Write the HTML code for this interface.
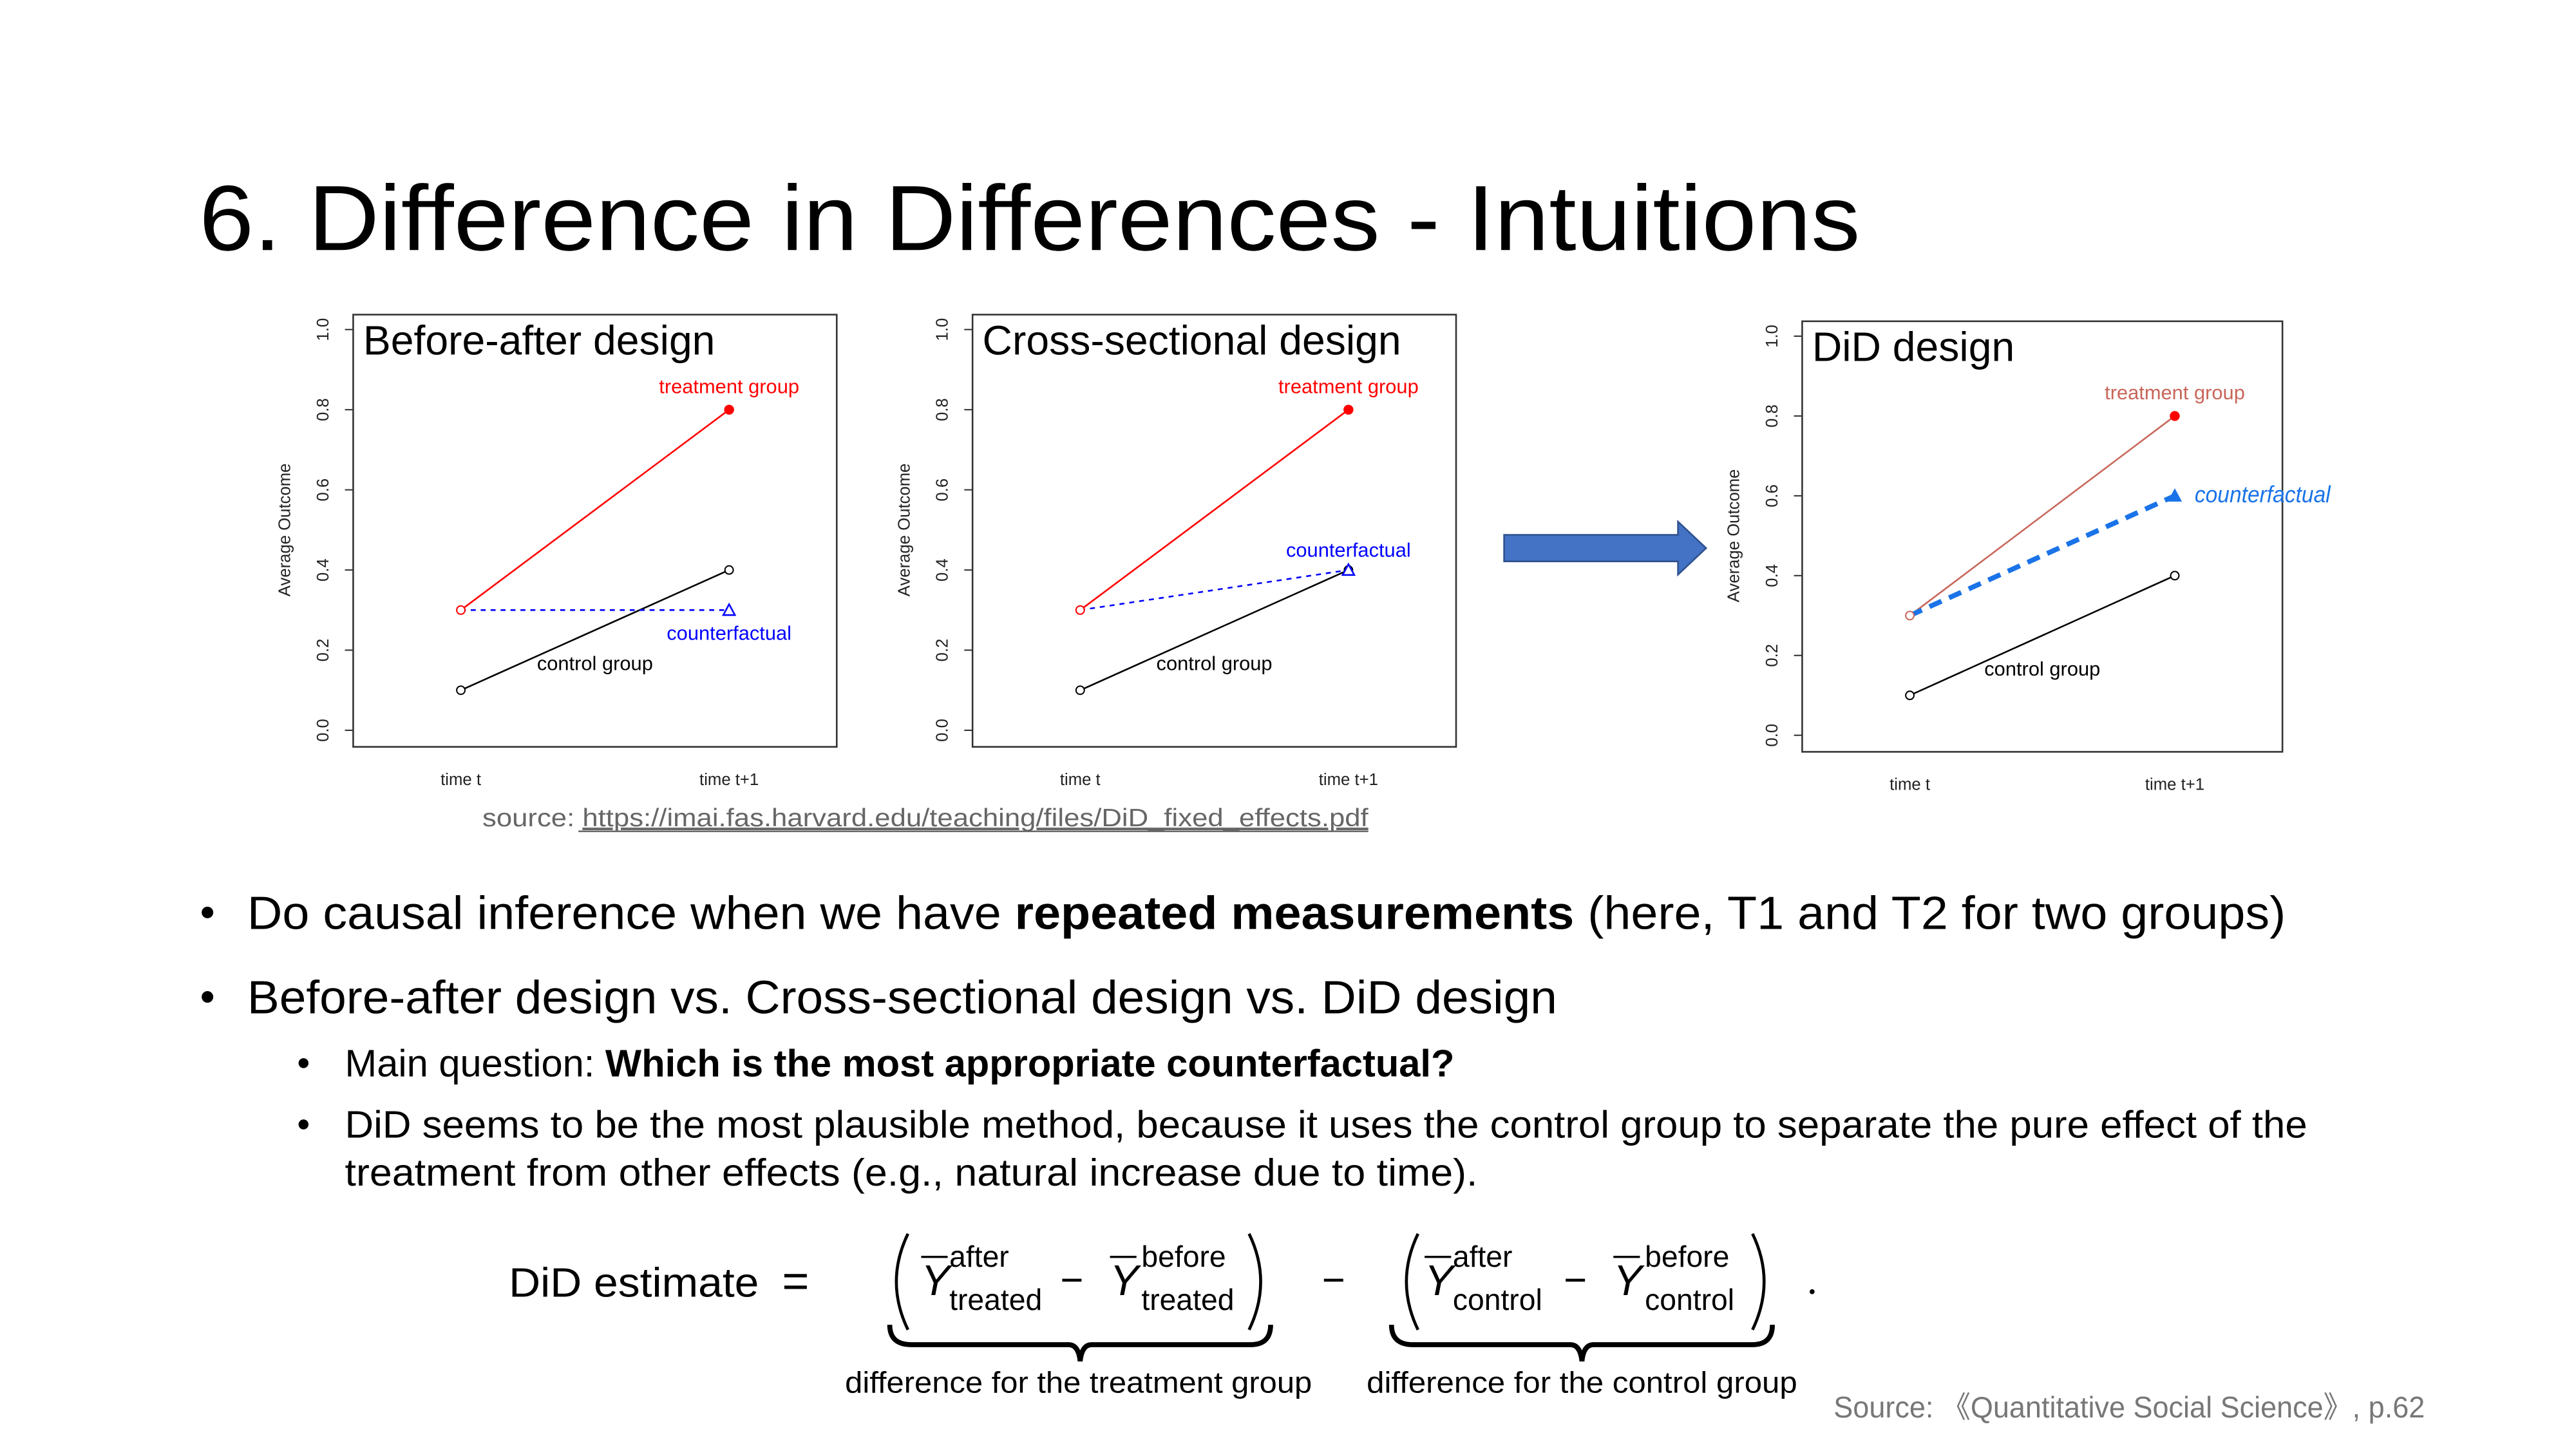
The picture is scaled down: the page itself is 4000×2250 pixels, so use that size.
<!DOCTYPE html>
<html><head><meta charset="utf-8">
<style>
html,body{margin:0;padding:0;background:#fff;}
svg{display:block;}
text{font-family:"Liberation Sans",sans-serif;}
</style></head>
<body>
<svg id="slide" width="4000" height="2250" viewBox="0 0 1555 875" xmlns="http://www.w3.org/2000/svg">
<rect width="1555" height="875" fill="#fff"/>
<text x="120" y="151" font-size="56" textLength="1003" lengthAdjust="spacingAndGlyphs" fill="#000">6. Difference in Differences - Intuitions</text>
<g id="charts"></g>
<g>
<polygon points="908,323 1013,323 1013,315 1030,331 1013,347 1013,339 908,339" fill="#4472c4" stroke="#2f528f" stroke-width="1"/>
</g>
<text x="291" y="499" font-size="15" fill="#666" textLength="535" lengthAdjust="spacingAndGlyphs">source: <tspan text-decoration="underline">https://imai.fas.harvard.edu/teaching/files/DiD_fixed_effects.pdf</tspan></text>
<line x1="349" y1="502" x2="826" y2="502" stroke="#666" stroke-width="1"/>
<g fill="#000">
<circle cx="125" cy="551" r="3.5"/>
<text x="149" y="561" font-size="28" textLength="1231" lengthAdjust="spacingAndGlyphs">Do causal inference when we have <tspan font-weight="bold">repeated measurements</tspan> (here, T1 and T2 for two groups)</text>
<circle cx="125" cy="602" r="3.5"/>
<text x="149" y="612" font-size="28" textLength="791" lengthAdjust="spacingAndGlyphs">Before-after design vs. Cross-sectional design vs. DiD design</text>
<circle cx="183" cy="642" r="3"/>
<text x="208" y="650" font-size="23" textLength="670" lengthAdjust="spacingAndGlyphs">Main question: <tspan font-weight="bold">Which is the most appropriate counterfactual?</tspan></text>
<circle cx="183" cy="679" r="3"/>
<text x="208" y="687" font-size="23" textLength="1185" lengthAdjust="spacingAndGlyphs">DiD seems to be the most plausible method, because it uses the control group to separate the pure effect of the</text>
<text x="208" y="716" font-size="23" textLength="684" lengthAdjust="spacingAndGlyphs">treatment from other effects (e.g., natural increase due to time).</text>
</g>
<g fill="#000">
<text x="307" y="783" font-size="25" textLength="151" lengthAdjust="spacingAndGlyphs">DiD estimate</text>
<text x="472" y="783" font-size="28">=</text>
<path d="M548,745 Q534,774 548,803" fill="none" stroke="#000" stroke-width="1.8"/>
<path d="M754,745 Q768,774 754,803" fill="none" stroke="#000" stroke-width="1.8"/>
<line x1="556" y1="759" x2="572" y2="759" stroke="#000" stroke-width="1.3"/>
<text x="556" y="782" font-size="26" font-family="Liberation Serif" font-style="italic">Y</text>
<text x="573" y="765" font-size="18">after</text>
<text x="573" y="791" font-size="18">treated</text>
<text x="640" y="781" font-size="24">−</text>
<line x1="670" y1="759" x2="686" y2="759" stroke="#000" stroke-width="1.3"/>
<text x="670" y="782" font-size="26" font-family="Liberation Serif" font-style="italic">Y</text>
<text x="689" y="765" font-size="18">before</text>
<text x="689" y="791" font-size="18">treated</text>
<text x="798" y="781" font-size="24">−</text>
<path d="M856,745 Q842,774 856,803" fill="none" stroke="#000" stroke-width="1.8"/>
<path d="M1058,745 Q1072,774 1058,803" fill="none" stroke="#000" stroke-width="1.8"/>
<line x1="860" y1="759" x2="876" y2="759" stroke="#000" stroke-width="1.3"/>
<text x="860" y="782" font-size="26" font-family="Liberation Serif" font-style="italic">Y</text>
<text x="877" y="765" font-size="18">after</text>
<text x="877" y="791" font-size="18">control</text>
<text x="944" y="781" font-size="24">−</text>
<line x1="974" y1="759" x2="990" y2="759" stroke="#000" stroke-width="1.3"/>
<text x="974" y="782" font-size="26" font-family="Liberation Serif" font-style="italic">Y</text>
<text x="993" y="765" font-size="18">before</text>
<text x="993" y="791" font-size="18">control</text>
<circle cx="1094" cy="780" r="1.5"/>
<path d="M537,800 Q537,812 550,812 L645,812 Q651,812 652,822 Q653,812 659,812 L755,812 Q767,812 767,800" fill="none" stroke="#000" stroke-width="3"/>
<path d="M840,800 Q840,812 853,812 L948,812 Q954,812 955,822 Q956,812 962,812 L1058,812 Q1070,812 1070,800" fill="none" stroke="#000" stroke-width="3"/>
<text x="510" y="841" font-size="18" textLength="282" lengthAdjust="spacingAndGlyphs">difference for the treatment group</text>
<text x="825" y="841" font-size="18" textLength="260" lengthAdjust="spacingAndGlyphs">difference for the control group</text>
</g>
<text x="1107" y="856" font-size="18" fill="#777" textLength="357" lengthAdjust="spacingAndGlyphs">Source: 《Quantitative Social Science》, p.62</text>
</svg>
<script>
const NS="http://www.w3.org/2000/svg";
const yTicks=[0,0.2,0.4,0.6,0.8,1.0];
const yTickLabels=["0.0","0.2","0.4","0.6","0.8","1.0"];
const xLabels=["time t","time t+1"];
const treatmentValues=[[0.3,0.8],[0.3,0.8],[0.3,0.8]];
const controlValues=[[0.1,0.4],[0.1,0.4],[0.1,0.4]];
const counterfactualValues=[[0.3,0.3],[0.3,0.4],[0.3,0.6]];
const chartTitles=["Before-after design","Cross-sectional design","DiD design"];
const frames=[{x:213,y:190,w:292,h:261,x0:278,x1:440,yTop:199,yBot:441},
              {x:587,y:190,w:292,h:261,x0:652,x1:814,yTop:199,yBot:441},
              {x:1088,y:194,w:290,h:260,x0:1153,x1:1313,yTop:203,yBot:444}];
const root=document.getElementById('charts');
function mk(tag,attrs,parent,txt){const e=document.createElementNS(NS,tag);for(const k in attrs)e.setAttribute(k,attrs[k]);if(txt!==undefined)e.textContent=txt;parent.appendChild(e);return e;}
frames.forEach((f,i)=>{
  const g=mk('g',{},root);
  
  
  const sy=v=>f.yBot-(f.yBot-f.yTop)*v;
  const sx=j=>j===0?f.x0:f.x1;
  mk('rect',{x:f.x,y:f.y,width:f.w,height:f.h,fill:'none',stroke:'#333','stroke-width':1},g);
  yTicks.forEach((t,k)=>{
    const y=sy(t);
    mk('line',{x1:f.x-5,y1:y,x2:f.x,y2:y,stroke:'#333','stroke-width':0.8},g);
    const tl=mk('text',{x:f.x-15,y:y,'font-size':10,'text-anchor':'middle',transform:`rotate(-90 ${f.x-15} ${y})`,fill:'#222'},g,yTickLabels[k]);
    
    
  });
  const yt=mk('text',{x:f.x-38,y:(f.yTop+f.yBot)/2,'font-size':10,'text-anchor':'middle',transform:`rotate(-90 ${f.x-38} ${(f.yTop+f.yBot)/2})`,fill:'#222'},g,'Average Outcome');
  
  
  xLabels.forEach((l,j)=>{
    const xl=mk('text',{x:sx(j),y:f.y+f.h+23,'font-size':10,'text-anchor':'middle',fill:'#222'},g,l);
    
    
  });
  const title=mk('text',{x:f.x+6,y:f.y+24,'font-size':25,fill:'#000'},g,chartTitles[i]);
  
  
  const tv=treatmentValues[i],cv=controlValues[i],fv=counterfactualValues[i];
  const tcol=i===2?'#c8665a':'#f00';
  const ctl=mk('line',{x1:sx(0),y1:sy(cv[0]),x2:sx(1),y2:sy(cv[1]),stroke:'#000','stroke-width':1},g);
  
  
  const trl=mk('line',{x1:sx(0),y1:sy(tv[0]),x2:sx(1),y2:sy(tv[1]),stroke:tcol,'stroke-width':1},g);
  
  
  const cf=mk('line',{x1:sx(0),y1:sy(fv[0]),x2:sx(1),y2:sy(fv[1]),stroke:i===2?'#1a73e8':'#00f','stroke-width':i===2?3:1,'stroke-dasharray':i===2?'8,5':'3,3'},g);
  
  
  mk('circle',{cx:sx(0),cy:sy(cv[0]),r:2.5,fill:'#fff',stroke:'#000','stroke-width':0.8},g);
  mk('circle',{cx:sx(1),cy:sy(cv[1]),r:2.5,fill:'#fff',stroke:'#000','stroke-width':0.8},g);
  mk('circle',{cx:sx(0),cy:sy(tv[0]),r:2.5,fill:'#fff',stroke:tcol,'stroke-width':0.8},g);
  mk('circle',{cx:sx(1),cy:sy(tv[1]),r:3,fill:'#f00'},g);
  const tx=sx(1),ty=sy(fv[1]);
  mk('polygon',{points:`${tx-3.5},${ty+3} ${tx+3.5},${ty+3} ${tx},${ty-3.5}`,fill:i===2?'#1a73e8':'#fff',stroke:i===2?'#1a73e8':'#00f','stroke-width':1},g);
  const tlab=mk('text',{x:sx(1),y:sy(tv[1])-10,'font-size':12,'text-anchor':'middle',fill:tcol},g,'treatment group');
  
  
  const clab=mk('text',{x:(sx(0)+sx(1))/2,y:sy(0.15),'font-size':12,'text-anchor':'middle',fill:'#000'},g,'control group');
  
  
  let cfl;
  if(i===0) cfl=mk('text',{x:sx(1),y:sy(fv[1])+18,'font-size':12,'text-anchor':'middle',fill:'#00f'},g,'counterfactual');
  else if(i===1) cfl=mk('text',{x:sx(1),y:sy(fv[1])-8,'font-size':12,'text-anchor':'middle',fill:'#00f'},g,'counterfactual');
  else cfl=mk('text',{x:sx(1)+12,y:sy(fv[1])+4,'font-size':14,'font-style':'italic','font-family':'Liberation Serif',fill:'#1a73e8',textLength:82,lengthAdjust:'spacingAndGlyphs'},g,'counterfactual');
  
  
});
</script>
</body></html>
